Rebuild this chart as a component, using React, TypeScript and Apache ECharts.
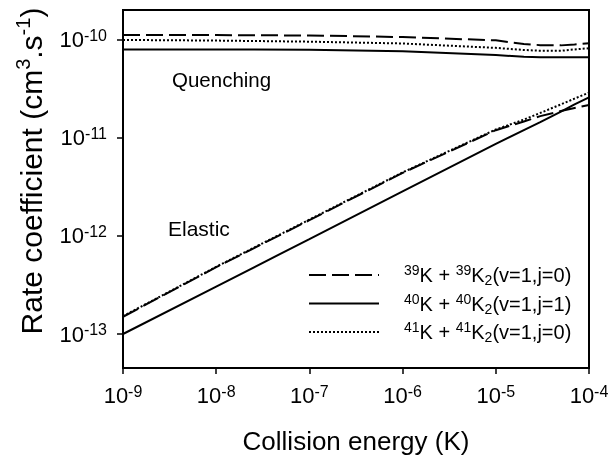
import React, { useEffect, useRef } from 'react';
import * as echarts from 'echarts';

// Collision energy (K)
const energy = [1e-9, 1e-8, 1e-7, 1e-6, 1e-5, 2e-5, 3e-5, 5e-5, 7e-5, 1e-4];

// Elastic rate coefficients (cm^3 s^-1)
const elastic39 = [1.5e-13, 4.8e-13, 1.45e-12, 4.4e-12, 1.2e-11, 1.47e-11, 1.67e-11, 1.88e-11, 2.02e-11, 2.17e-11];
const elastic40 = [1.0e-13, 3.05e-13, 9.3e-13, 2.85e-12, 8.7e-12, 1.2e-11, 1.45e-11, 1.86e-11, 2.2e-11, 2.6e-11];
const elastic41 = [1.52e-13, 4.85e-13, 1.47e-12, 4.45e-12, 1.22e-11, 1.54e-11, 1.8e-11, 2.2e-11, 2.52e-11, 2.9e-11];

// Quenching rate coefficients (cm^3 s^-1)
const quench39 = [1.12e-10, 1.12e-10, 1.11e-10, 1.07e-10, 0.99e-10, 0.91e-10, 0.885e-10, 0.88e-10, 0.9e-10, 0.925e-10];
const quench40 = [0.8e-10, 0.8e-10, 0.795e-10, 0.765e-10, 0.7e-10, 0.675e-10, 0.665e-10, 0.665e-10, 0.666e-10, 0.667e-10];
const quench41 = [1.0e-10, 0.985e-10, 0.96e-10, 0.92e-10, 0.83e-10, 0.79e-10, 0.775e-10, 0.775e-10, 0.8e-10, 0.823e-10];

// Series names / legend
const isotopes = ['39', '40', '41'];
const jValues = ['0', '1', '0'];
const seriesNames = ['39K + 39K2(v=1,j=0)', '40K + 40K2(v=1,j=1)', '41K + 41K2(v=1,j=0)'];

// Axis ticks (exponents of ten)
const xTickExps = [-9, -8, -7, -6, -5, -4];
const yTickExps = [-13, -12, -11, -10];
const xMinVal = 1e-9;
const xMaxVal = 1e-4;
const yMinVal = 4.5e-14;
const yMaxVal = 2.02e-10;

const FONT = '"Liberation Sans", Arial, Helvetica, sans-serif';

export default function App() {
  const ref = useRef<HTMLDivElement>(null);

  useEffect(() => {
    const chart = echarts.init(ref.current!, null, { renderer: 'svg' });
    const toPts = (ys: number[]) => energy.map((e, i) => [Math.log10(e), Math.log10(ys[i])]);

    const lineTypes: any[] = [[17, 6], 'solid', [2, 2]];
    const elastic = [elastic39, elastic40, elastic41];
    const quench = [quench39, quench40, quench41];

    const series: any[] = [];
    for (let k = 0; k < 3; k++) {
      for (const arr of [elastic[k], quench[k]]) {
        series.push({
          type: 'line',
          name: seriesNames[k],
          data: toPts(arr),
          symbol: 'none',
          showSymbol: false,
          lineStyle: { color: '#000', width: 2, type: lineTypes[k] },
          itemStyle: { color: '#000' },
          silent: true,
        });
      }
    }

    const labelRich = {
      b: { fontSize: 22, fontFamily: FONT, lineHeight: 25, color: '#000' },
      s: { fontSize: 16, fontFamily: FONT, lineHeight: 15, verticalAlign: 'top', color: '#000' },
    };
    const powLabel = (v: number) => `{b|10}{s|${Math.round(v)}}`;

    chart.setOption({
      animation: false,
      grid: {
        left: 123,
        right: 25,
        top: 10,
        bottom: 93,
        show: true,
        borderColor: '#000',
        borderWidth: 2,
        containLabel: false,
      },
      xAxis: {
        type: 'value',
        min: Math.log10(xMinVal),
        max: Math.log10(xMaxVal),
        interval: 1,
        name: 'Collision energy (K)',
        nameLocation: 'middle',
        nameGap: 60,
        nameTextStyle: { fontSize: 26, fontFamily: FONT, color: '#000' },
        axisLine: { show: true, onZero: false, lineStyle: { color: '#000', width: 2 } },
        axisTick: { show: true, inside: false, length: 6, lineStyle: { color: '#000', width: 1.5 }, customValues: xTickExps },
        axisLabel: { formatter: powLabel, margin: 15, fontSize: 22, fontFamily: FONT, color: '#000', rich: labelRich, customValues: xTickExps },
        splitLine: { show: false },
      },
      yAxis: {
        type: 'value',
        min: Math.log10(yMinVal),
        max: Math.log10(yMaxVal),
        axisLine: { show: true, onZero: false, lineStyle: { color: '#000', width: 2 } },
        axisTick: { show: true, inside: false, length: 6, lineStyle: { color: '#000', width: 1.5 }, customValues: yTickExps },
        axisLabel: { formatter: powLabel, margin: 16, fontSize: 22, fontFamily: FONT, color: '#000', rich: labelRich, customValues: yTickExps },
        splitLine: { show: false },
      },
      legend: {
        data: seriesNames,
        orient: 'vertical',
        left: 303,
        top: 258,
        itemWidth: 70,
        itemHeight: 14,
        itemGap: 4.5,
        selectedMode: false,
        itemStyle: { color: 'rgba(0,0,0,0)', borderColor: 'rgba(0,0,0,0)', borderWidth: 0, opacity: 0 },
        formatter: (name: string) => {
          const i = seriesNames.indexOf(name);
          const iso = isotopes[i];
          return `{g| }{p|${iso}}{n|K + }{p|${iso}}{n|K}{d|2}{n|(v=1,j=${jValues[i]})}`;
        },
        textStyle: {
          fontSize: 20,
          fontFamily: FONT,
          color: '#000',
          rich: {
            g: { width: 20, fontSize: 20, lineHeight: 24 },
            n: { fontSize: 20, fontFamily: FONT, lineHeight: 24, color: '#000' },
            p: { fontSize: 14, fontFamily: FONT, lineHeight: 14, verticalAlign: 'top', color: '#000' },
            d: { fontSize: 14, fontFamily: FONT, lineHeight: 14, verticalAlign: 'bottom', color: '#000' },
          },
        },
      },
      graphic: [
        {
          type: 'text',
          x: 172,
          y: 79,
          silent: true,
          style: { text: 'Quenching', fontSize: 20.5, fontFamily: FONT, fill: '#000', align: 'left', verticalAlign: 'middle' },
        },
        {
          type: 'text',
          x: 168,
          y: 228,
          silent: true,
          style: { text: 'Elastic', fontSize: 21, fontFamily: FONT, fill: '#000', align: 'left', verticalAlign: 'middle' },
        },
        {
          type: 'text',
          x: 31,
          y: 171,
          rotation: Math.PI / 2,
          silent: true,
          style: {
            text: '{n|Rate coefficient (cm}{p|3}{n|.s}{p|-1}{n|)}',
            fontSize: 30,
            fontFamily: FONT,
            fill: '#000',
            align: 'center',
            verticalAlign: 'middle',
            rich: {
              n: { fontSize: 30, fontFamily: FONT, lineHeight: 36, fill: '#000' },
              p: { fontSize: 20, fontFamily: FONT, lineHeight: 20, verticalAlign: 'top', fill: '#000' },
            },
          },
        },
      ],
      series,
    });

    return () => chart.dispose();
  }, []);

  return <div ref={ref} style={{ position: 'fixed', left: 0, top: 0, width: 614, height: 461 }} />;
}
